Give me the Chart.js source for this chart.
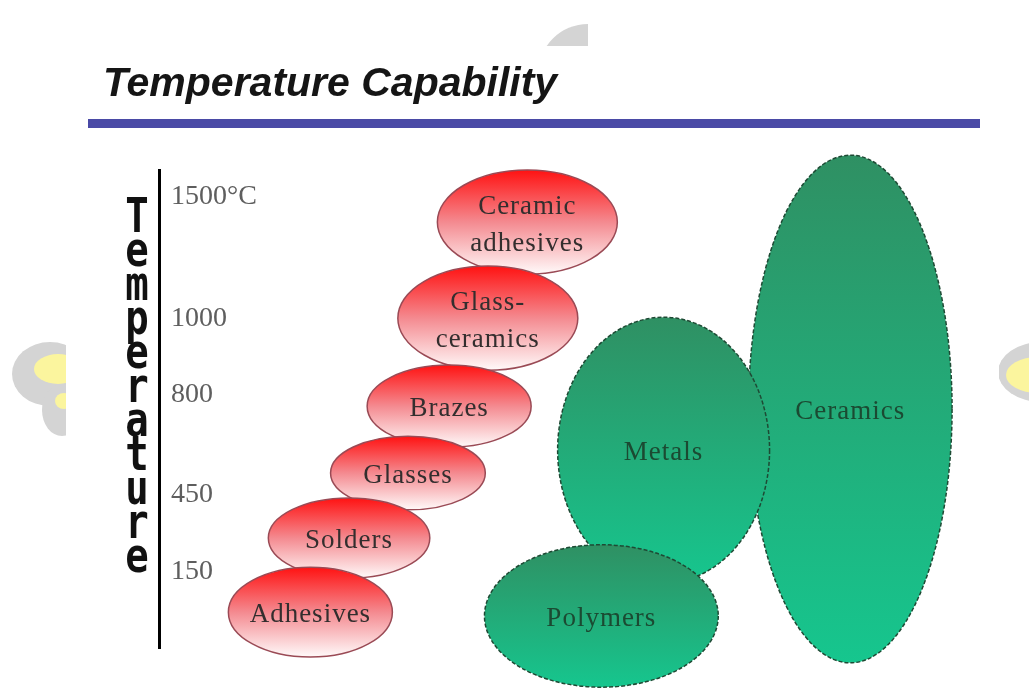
<!DOCTYPE html>
<html>
<head>
<meta charset="utf-8">
<script src="https://cdn.jsdelivr.net/npm/chart.js@4.4.1/dist/chart.umd.min.js"></script>
<style>
  html, body { margin: 0; padding: 0; background: #fff; }
  canvas { display: block; }
</style>
</head>
<body>
<canvas id="chart" width="1029" height="698"></canvas>
<script>
// axis ticks, on a 0-100 height scale (axis is not linear in degrees)
const tickLevels = [15.9, 32.0, 52.9, 69.0, 94.4];
const tickLabels = ['150', '450', '800', '1000', '1500°C'];

// joining materials (red), top to bottom so lower ones overlap upper ones
const joinNames = [['Ceramic', 'adhesives'], ['Glass-', 'ceramics'], ['Brazes'], ['Glasses'], ['Solders'], ['Adhesives']];
const joinX = [43.8, 39.1, 34.5, 29.6, 22.6, 18.0];
const joinY = [89.1, 69.0, 50.6, 36.6, 23.0, 7.5];
const joinW = [10.7, 10.7, 9.75, 9.2, 9.6, 9.75];
const joinH = [10.9, 10.9, 8.6, 7.7, 8.4, 9.4];

// bulk materials (green)
const bulkNames = [['Ceramics'], ['Metals'], ['Polymers']];
const bulkX = [82.2, 60.0, 52.6];
const bulkY = [50.0, 41.4, 6.7];
const bulkW = [12.1, 12.6, 13.9];
const bulkH = [53.1, 27.8, 14.9];

let toPoints = (xs, ys, ws, hs, names) =>
  xs.map((x, i) => ({ x: x, y: ys[i], rx: ws[i], ry: hs[i], name: names[i] }));

// title, rule, watermark bits and the stacked axis word
let backdrop = {
  id: 'backdrop',
  beforeDraw: (chart) => {
    let ctx = chart.ctx;
    ctx.save();
    ctx.fillStyle = '#fff';
    ctx.fillRect(0, 0, chart.width, chart.height);

    // faint logo peeking out round the white slide
    ctx.save();
    ctx.beginPath();
    ctx.rect(0, 0, chart.width, chart.height);
    ctx.rect(66, 46, 933, 660);
    ctx.clip('evenodd');
    ctx.fillStyle = '#d4d4d4';
    ctx.beginPath();
    ctx.moveTo(588, 74);
    ctx.arc(588, 74, 50, Math.PI, 1.5 * Math.PI);
    ctx.closePath();
    ctx.fill();
    ctx.beginPath(); ctx.ellipse(50, 374, 38, 32, 0, 0, Math.PI * 2); ctx.fill();
    ctx.beginPath(); ctx.ellipse(62, 410, 20, 26, 0, 0, Math.PI * 2); ctx.fill();
    ctx.beginPath(); ctx.ellipse(1042, 372, 44, 30, 0, 0, Math.PI * 2); ctx.fill();
    ctx.fillStyle = '#fbf59e';
    ctx.beginPath(); ctx.ellipse(58, 369, 24, 15, 0, 0, Math.PI * 2); ctx.fill();
    ctx.beginPath(); ctx.ellipse(64, 401, 9, 8, 0, 0, Math.PI * 2); ctx.fill();
    ctx.beginPath(); ctx.ellipse(1038, 375, 32, 18, 0, 0, Math.PI * 2); ctx.fill();
    ctx.restore();

    ctx.fillStyle = '#151515';
    ctx.font = 'italic bold 41px "Liberation Sans"';
    ctx.textAlign = 'left';
    ctx.textBaseline = 'alphabetic';
    ctx.fillText('Temperature Capability', 103, 96);

    ctx.fillStyle = '#4a4aa6';
    ctx.fillRect(88, 119, 892, 9);

    let word = 'Temperature';
    ctx.fillStyle = '#111';
    ctx.font = 'bold 39px "DejaVu Sans Mono"';
    ctx.textAlign = 'center';
    for (let i = 0; i < word.length; i++) {
      ctx.save();
      ctx.translate(137, 232 + i * 34);
      ctx.scale(1, 1.22);
      ctx.fillText(word[i], 0, 0);
      ctx.restore();
    }
    ctx.restore();
  }
};

let ellipses = {
  id: 'ellipses',
  afterDatasetsDraw: (chart) => {
    let ctx = chart.ctx;
    let xs = chart.scales.x, ys = chart.scales.y;
    chart.data.datasets.forEach(ds => {
      ds.data.forEach(p => {
        let cx = xs.getPixelForValue(p.x), cy = ys.getPixelForValue(p.y);
        let rx = xs.getPixelForValue(p.x + p.rx) - cx;
        let ry = cy - ys.getPixelForValue(p.y + p.ry);
        let g = ctx.createLinearGradient(0, cy - ry, 0, cy + ry);
        ds.shade.forEach(s => g.addColorStop(s[0], s[1]));
        ctx.save();
        ctx.beginPath();
        ctx.ellipse(cx, cy, rx, ry, 0, 0, Math.PI * 2);
        ctx.fillStyle = g;
        ctx.fill();
        ctx.setLineDash(ds.edgeDash);
        ctx.lineWidth = 1.5;
        ctx.strokeStyle = ds.edgeColor;
        ctx.stroke();
        ctx.setLineDash([]);
        ctx.fillStyle = ds.textColor;
        ctx.font = '27px "Liberation Serif"';
        ctx.letterSpacing = '1px';
        ctx.textAlign = 'center';
        ctx.textBaseline = 'middle';
        let n = p.name.length;
        p.name.forEach((t, k) => ctx.fillText(t, cx, cy + (k - (n - 1) / 2) * 37 + 3));
        ctx.restore();
      });
    });
  }
};

new Chart(document.getElementById('chart'), {
  type: 'scatter',
  data: {
    datasets: [
      {
        label: 'Bulk materials',
        data: toPoints(bulkX, bulkY, bulkW, bulkH, bulkNames),
        pointRadius: 0,
        shade: [[0, '#2f9063'], [1, '#16c68e']],
        edgeColor: '#1e4a34',
        edgeDash: [4, 2],
        textColor: '#1b4a32'
      },
      {
        label: 'Joining materials',
        data: toPoints(joinX, joinY, joinW, joinH, joinNames),
        pointRadius: 0,
        shade: [[0, '#ff1212'], [0.5, '#f48a90'], [1, '#fffafa']],
        edgeColor: '#9a4a55',
        edgeDash: [],
        textColor: '#332e2e'
      }
    ]
  },
  options: {
    responsive: false,
    animation: false,
    layout: { padding: { left: 159, right: 29, top: 170, bottom: 50 } },
    plugins: {
      legend: { display: false },
      tooltip: { enabled: false }
    },
    scales: {
      x: { type: 'linear', display: false, min: 0, max: 100 },
      y: {
        type: 'linear',
        position: 'left',
        min: 0,
        max: 100,
        grid: { display: false, drawTicks: false },
        border: { display: true, color: '#000', width: 3 },
        afterBuildTicks: (axis) => { axis.ticks = tickLevels.map(v => ({ value: v })); },
        afterFit: (axis) => { axis.width = 0; },
        ticks: {
          mirror: true,
          padding: 12,
          autoSkip: false,
          color: '#5e5e5e',
          font: { family: '"Liberation Serif"', size: 28 },
          callback: (v, i) => tickLabels[i]
        }
      }
    }
  },
  plugins: [backdrop, ellipses]
});
</script>
</body>
</html>
